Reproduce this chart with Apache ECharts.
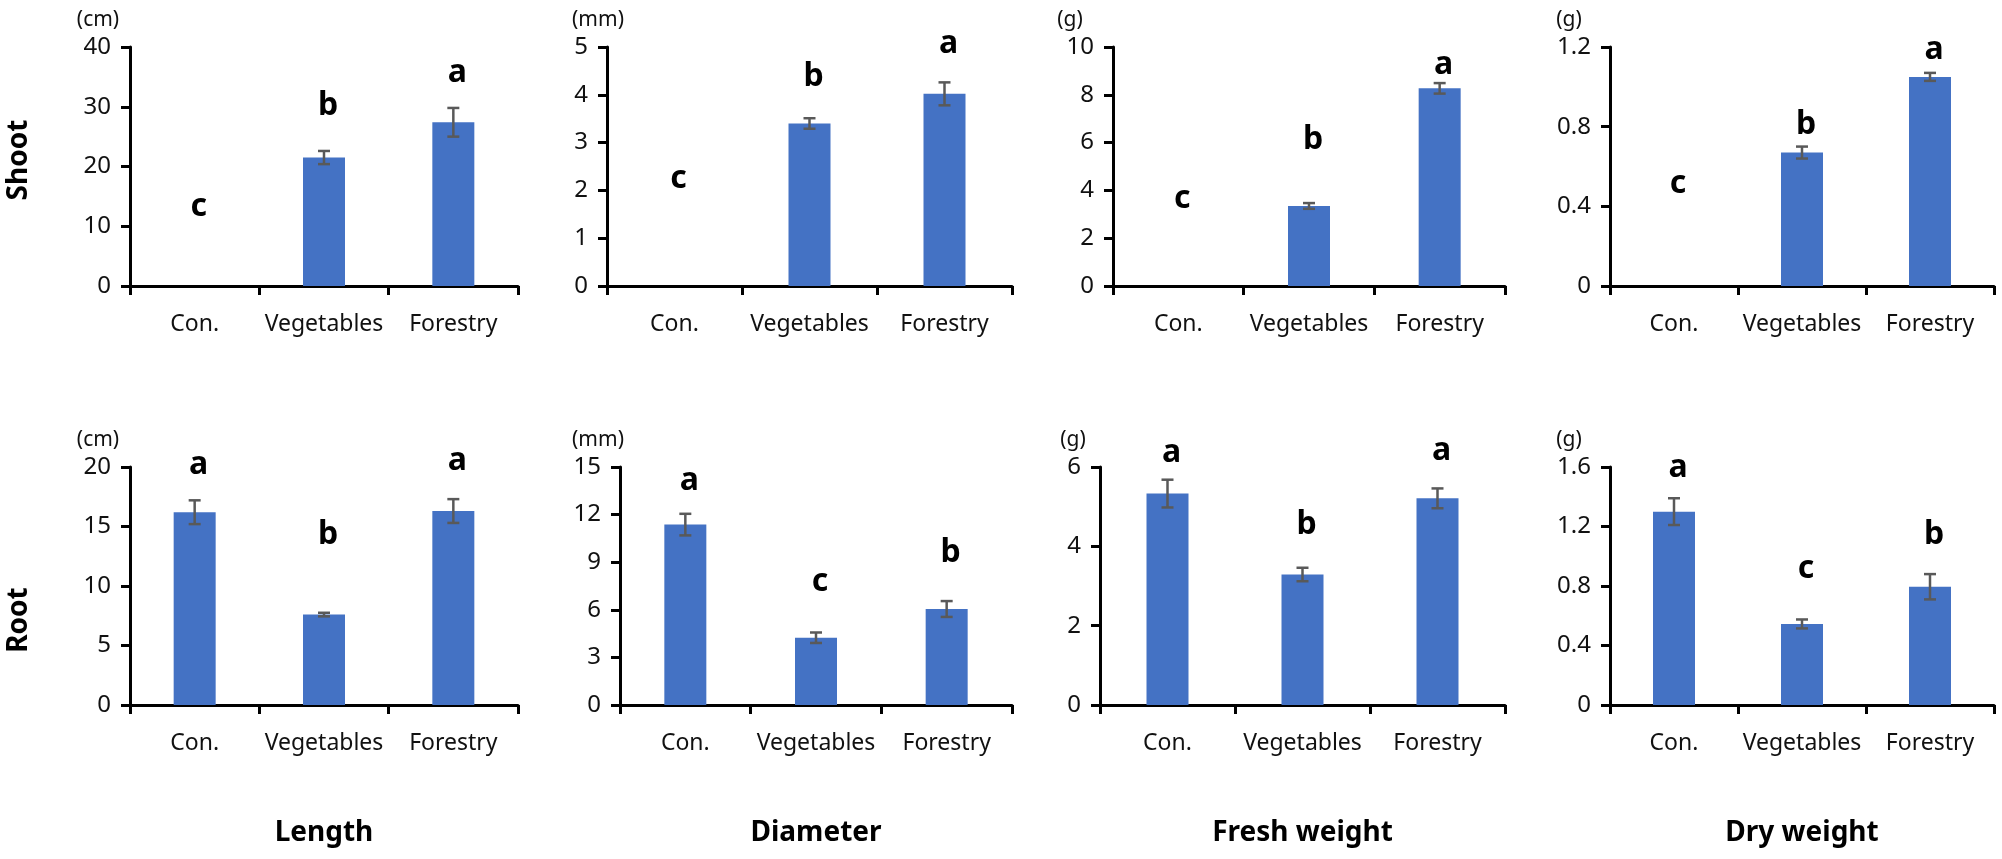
<!DOCTYPE html>
<html>
<head>
<meta charset="utf-8">
<title>Shoot and root growth</title>
<script src="https://cdn.jsdelivr.net/npm/echarts@6/dist/echarts.min.js"></script>
<style>
    html, body { margin: 0; padding: 0; background: #fff; }
    #growth_bars { width: 2002px; height: 859px; }
</style>
</head>
<body>
<div id="growth_bars"></div>
<script>
// Treatments
var categories = ['Con.', 'Vegetables', 'Forestry'];

// Shoot (mean, error, significance letters and where they sit)
var shootLength = [0, 21.5, 27.4];
var shootLengthErr = [0, 1.1, 2.4];
var shootLengthLetters = ['c', 'b', 'a'];
var shootLengthLetterAt = [12.7, 29.6, 35.2];

var shootDiameter = [0, 3.40, 4.02];
var shootDiameterErr = [0, 0.11, 0.24];
var shootDiameterLetters = ['c', 'b', 'a'];
var shootDiameterLetterAt = [2.18, 4.31, 5.0];

var shootFresh = [0, 3.35, 8.27];
var shootFreshErr = [0, 0.12, 0.22];
var shootFreshLetters = ['c', 'b', 'a'];
var shootFreshLetterAt = [3.53, 6.0, 9.14];

var shootDry = [0, 0.67, 1.05];
var shootDryErr = [0, 0.03, 0.02];
var shootDryLetters = ['c', 'b', 'a'];
var shootDryLetterAt = [0.497, 0.794, 1.168];

// Root
var rootLength = [16.2, 7.6, 16.3];
var rootLengthErr = [1.0, 0.15, 1.0];
var rootLengthLetters = ['a', 'b', 'a'];
var rootLengthLetterAt = [19.9, 14.05, 20.3];

var rootDiameter = [11.37, 4.24, 6.05];
var rootDiameterErr = [0.68, 0.33, 0.5];
var rootDiameterLetters = ['a', 'c', 'b'];
var rootDiameterLetterAt = [13.95, 7.55, 9.4];

var rootFresh = [5.33, 3.29, 5.21];
var rootFreshErr = [0.35, 0.17, 0.25];
var rootFreshLetters = ['a', 'b', 'a'];
var rootFreshLetterAt = [6.28, 4.47, 6.34];

var rootDry = [1.30, 0.545, 0.795];
var rootDryErr = [0.09, 0.03, 0.085];
var rootDryLetters = ['a', 'c', 'b'];
var rootDryLetterAt = [1.573, 0.895, 1.124];

// Axis ranges and units
var axisMax = [40, 5, 10, 1.2, 20, 15, 6, 1.6];
var axisInterval = [10, 1, 2, 0.4, 5, 3, 2, 0.4];
var units = ['(cm)', '(mm)', '(g)', '(g)', '(cm)', '(mm)', '(g)', '(g)'];
var measures = ['Length', 'Diameter', 'Fresh weight', 'Dry weight'];
var parts = ['Shoot', 'Root'];

var panels = [
    [shootLength, shootLengthErr, shootLengthLetters, shootLengthLetterAt],
    [shootDiameter, shootDiameterErr, shootDiameterLetters, shootDiameterLetterAt],
    [shootFresh, shootFreshErr, shootFreshLetters, shootFreshLetterAt],
    [shootDry, shootDryErr, shootDryLetters, shootDryLetterAt],
    [rootLength, rootLengthErr, rootLengthLetters, rootLengthLetterAt],
    [rootDiameter, rootDiameterErr, rootDiameterLetters, rootDiameterLetterAt],
    [rootFresh, rootFreshErr, rootFreshLetters, rootFreshLetterAt],
    [rootDry, rootDryErr, rootDryLetters, rootDryLetterAt]
];

// Panel placement (px)
var layout = [
    { left: 130, top: 47, width: 388, height: 239, unitDx: 32 },
    { left: 607, top: 47, width: 405, height: 239, unitDx: 9 },
    { left: 1113, top: 47, width: 392, height: 239, unitDx: 43 },
    { left: 1610, top: 47, width: 384, height: 239, unitDx: 41 },
    { left: 130, top: 467, width: 388, height: 238, unitDx: 32 },
    { left: 620, top: 467, width: 392, height: 238, unitDx: 22 },
    { left: 1100, top: 467, width: 405, height: 238, unitDx: 27 },
    { left: 1610, top: 467, width: 384, height: 238, unitDx: 41 }
];

var fontFamily = '"Noto Sans", "Open Sans", sans-serif';

function EchartsGrowthBars() {
    if (typeof echarts == 'undefined') {
        console.warn('Warning - echarts.min.js is not loaded.');
        return;
    }

    var element = document.getElementById('growth_bars');
    var chart = echarts.init(element);

    var grids = [], xAxes = [], yAxes = [], series = [], graphics = [];

    for (var p = 0; p < panels.length; p++) {
        var L = layout[p];
        var values = panels[p][0], errs = panels[p][1];
        var letters = panels[p][2], letterAt = panels[p][3];

        grids.push({ left: L.left, top: L.top, width: L.width, height: L.height, containLabel: false });

        xAxes.push({
            type: 'category',
            gridIndex: p,
            data: categories,
            boundaryGap: true,
            axisLine: { lineStyle: { color: '#000', width: 3 } },
            axisTick: { show: true, alignWithLabel: false, interval: 0, length: 9, lineStyle: { color: '#000', width: 3 } },
            axisLabel: { color: '#111', fontSize: 23, fontFamily: fontFamily, margin: 27, interval: 0, hideOverlap: false },
            splitLine: { show: false }
        });

        yAxes.push({
            type: 'value',
            gridIndex: p,
            min: 0,
            max: axisMax[p],
            interval: axisInterval[p],
            axisLine: { show: true, lineStyle: { color: '#000', width: 3 } },
            axisTick: { show: true, length: 9, lineStyle: { color: '#000', width: 3 } },
            axisLabel: { color: '#111', fontSize: 24, fontFamily: fontFamily, margin: 19 },
            splitLine: { show: false }
        });

        // Bars
        series.push({
            type: 'bar',
            xAxisIndex: p,
            yAxisIndex: p,
            data: values,
            barWidth: 42,
            itemStyle: { color: '#4472C4' },
            emphasis: { disabled: true },
            silent: true
        });

        // Error bars
        var errData = [];
        for (var i = 0; i < values.length; i++) {
            if (errs[i] > 0) {
                errData.push([i, values[i] - errs[i], values[i] + errs[i]]);
            }
        }
        series.push({
            type: 'custom',
            xAxisIndex: p,
            yAxisIndex: p,
            data: errData,
            silent: true,
            z: 5,
            renderItem: function (params, api) {
                var hi = api.coord([api.value(0), api.value(2)]);
                var lo = api.coord([api.value(0), api.value(1)]);
                var half = 6;
                var style = { stroke: '#595959', lineWidth: 2.5 };
                return {
                    type: 'group',
                    children: [
                        { type: 'line', shape: { x1: hi[0], y1: hi[1], x2: lo[0], y2: lo[1] }, style: style },
                        { type: 'line', shape: { x1: hi[0] - half, y1: hi[1], x2: hi[0] + half, y2: hi[1] }, style: style },
                        { type: 'line', shape: { x1: lo[0] - half, y1: lo[1], x2: lo[0] + half, y2: lo[1] }, style: style }
                    ]
                };
            }
        });

        // Significance letters
        series.push({
            type: 'custom',
            xAxisIndex: p,
            yAxisIndex: p,
            data: letterAt.map(function (v, k) { return [k, v]; }),
            silent: true,
            z: 6,
            renderItem: (function (lettersRef) {
                return function (params, api) {
                    var pt = api.coord([api.value(0), api.value(1)]);
                    return {
                        type: 'text',
                        x: pt[0] + 4,
                        y: pt[1] - 3,
                        style: {
                            text: lettersRef[params.dataIndex],
                            fill: '#000',
                            font: 'bold 32px ' + fontFamily,
                            textAlign: 'center',
                            textVerticalAlign: 'middle'
                        }
                    };
                };
            })(letters)
        });

        // Unit label above the value axis
        graphics.push({
            type: 'text',
            x: L.left - L.unitDx,
            y: L.top - 27,
            style: {
                text: units[p], fill: '#111', font: '21px ' + fontFamily,
                textAlign: 'center', textVerticalAlign: 'middle'
            }
        });
    }

    // Measure titles under the bottom row
    for (var m = 0; m < measures.length; m++) {
        var B = layout[m + 4];
        graphics.push({
            type: 'text',
            x: B.left + B.width / 2,
            y: 833,
            style: {
                text: measures[m], fill: '#000', font: 'bold 28px ' + fontFamily,
                textAlign: 'center', textVerticalAlign: 'middle'
            }
        });
    }

    // Row labels (rotated)
    var rowCenters = [160, 620];
    for (var r = 0; r < parts.length; r++) {
        graphics.push({
            type: 'text',
            x: 19,
            y: rowCenters[r],
            rotation: Math.PI / 2,
            style: {
                text: parts[r], fill: '#000', font: 'bold 28px ' + fontFamily,
                textAlign: 'center', textVerticalAlign: 'middle'
            }
        });
    }

    chart.setOption({
        animation: false,
        backgroundColor: '#fff',
        textStyle: { fontFamily: fontFamily },
        grid: grids,
        xAxis: xAxes,
        yAxis: yAxes,
        series: series,
        graphic: graphics
    });

    window.addEventListener('resize', function () {
        chart.resize();
    });
}

EchartsGrowthBars();
</script>
</body>
</html>
